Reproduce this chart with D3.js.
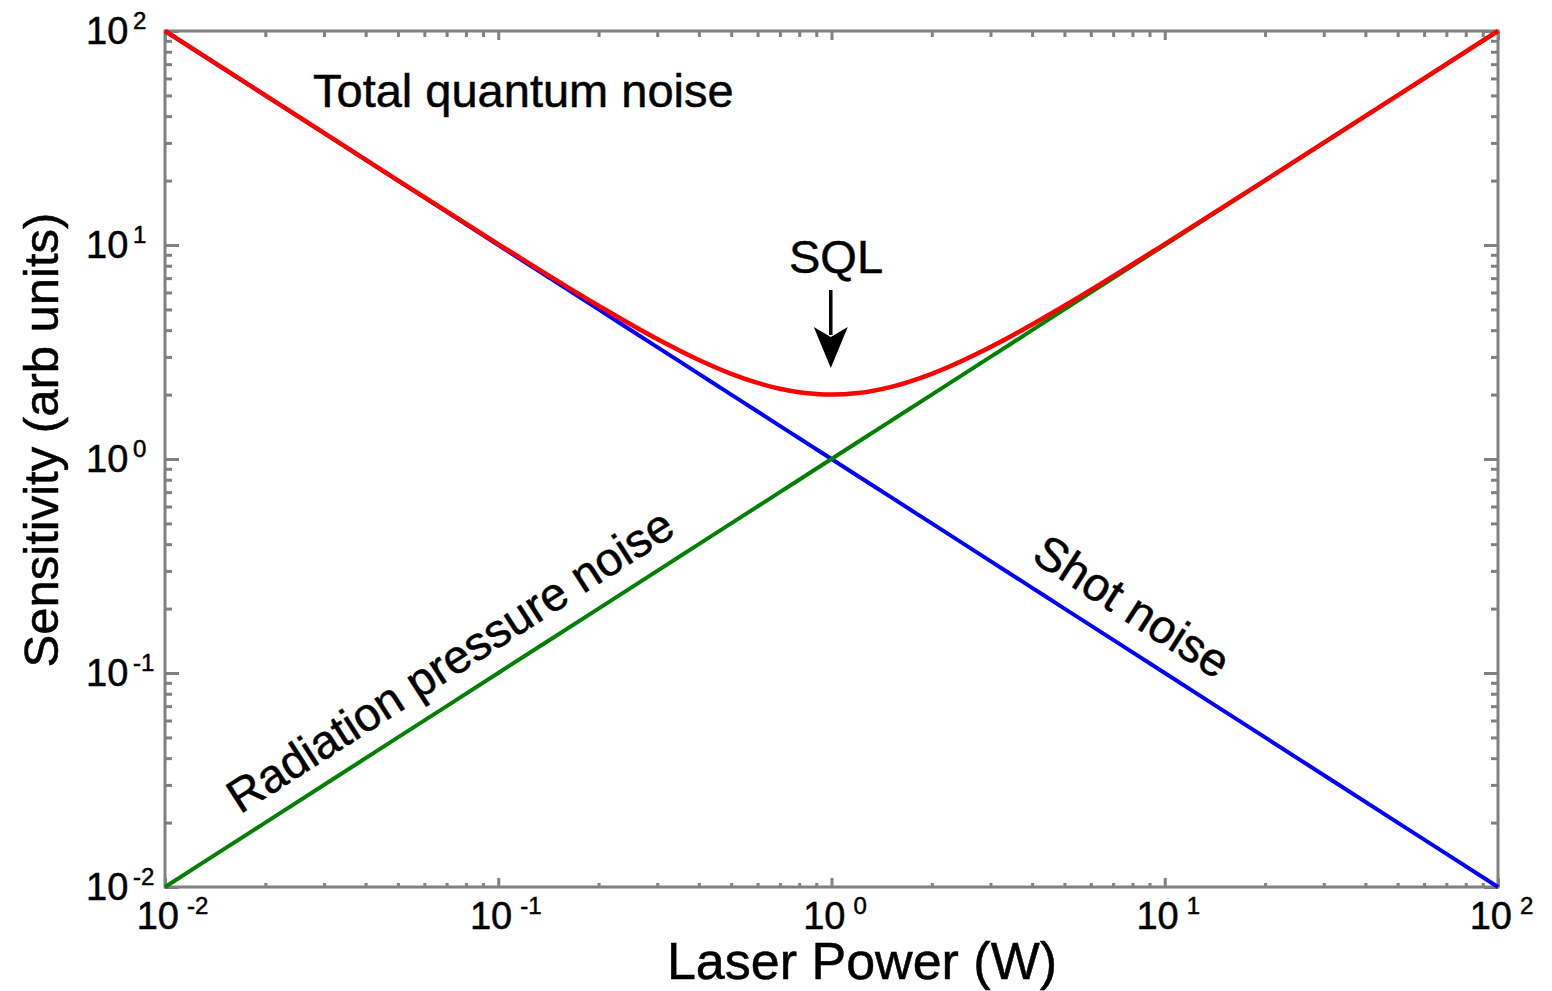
<!DOCTYPE html>
<html>
<head>
<meta charset="utf-8">
<script src="https://cdn.jsdelivr.net/npm/d3@7"></script>
<style>
  html, body { margin: 0; padding: 0; background: #fff; }
  svg { display: block; font-family: "Liberation Sans", Arial, Helvetica, sans-serif; }
  svg text { stroke: #000; stroke-width: 0.5px; }
</style>
</head>
<body>
<svg id="chart" width="1552" height="991"></svg>
<script>
// ---- data ----
const powerW    = [0.01, 0.02, 0.05, 0.1, 0.2, 0.3, 0.4, 0.5, 0.6, 0.7, 0.8, 0.9, 1, 1.2, 1.5, 2, 3, 4, 5, 10, 20, 50, 100];
const shotNoise = [100, 50, 20, 10, 5, 3.333, 2.5, 2, 1.667, 1.4286, 1.25, 1.1111, 1, 0.8333, 0.6667, 0.5, 0.3333, 0.25, 0.2, 0.1, 0.05, 0.02, 0.01];
const radNoise  = [0.01, 0.02, 0.05, 0.1, 0.2, 0.3, 0.4, 0.5, 0.6, 0.7, 0.8, 0.9, 1, 1.2, 1.5, 2, 3, 4, 5, 10, 20, 50, 100];
const totalNoise= [100.01, 50.02, 20.05, 10.1, 5.2, 3.633, 2.9, 2.5, 2.267, 2.129, 2.05, 2.011, 2.0, 2.033, 2.167, 2.5, 3.333, 4.25, 5.2, 10.1, 20.05, 50.02, 100.01];
const majorExps = [-2, -1, 0, 1, 2];
const xTickLabels = ["-2", "-1", "0", "1", "2"];
const yTickLabels = ["-2", "-1", "0", "1", "2"];
const xTitle = "Laser Power (W)";
const yTitle = "Sensitivity (arb units)";

// ---- layout ----
const svg = d3.select("#chart");
const L = 165, R = 1498, T = 31, B = 887;
const x = d3.scaleLog().domain([1e-2, 1e2]).range([L, R]);
const y = d3.scaleLog().domain([1e-2, 1e2]).range([B, T]);

const majors = majorExps.map(e => Math.pow(10, e));
const minors = [];
for (let e = -2; e < 2; e++) for (let m = 2; m <= 9; m++) minors.push(m * Math.pow(10, e));

const axisColor = "#808080";
function styleAxis(g) {
  g.select(".domain").remove();
  g.selectAll(".tick line").attr("stroke", axisColor).attr("stroke-width", 3);
  g.selectAll(".tick text").remove();
}
// bottom & top (ticks inward)
[[d3.axisBottom, B, -9, -4], [d3.axisTop, T, -9, -6]].forEach(([ax, pos, maj, mn]) => {
  svg.append("g").attr("transform", `translate(0,${pos})`)
    .call(ax(x).tickValues(majors).tickSize(maj)).call(styleAxis);
  svg.append("g").attr("transform", `translate(0,${pos})`)
    .call(ax(x).tickValues(minors).tickSize(mn)).call(styleAxis);
});
// left & right (ticks inward)
[[d3.axisLeft, L, -14, -7], [d3.axisRight, R, -14, -7]].forEach(([ax, pos, maj, mn]) => {
  svg.append("g").attr("transform", `translate(${pos},0)`)
    .call(ax(y).tickValues(majors).tickSize(maj)).call(styleAxis);
  svg.append("g").attr("transform", `translate(${pos},0)`)
    .call(ax(y).tickValues(minors).tickSize(mn)).call(styleAxis);
});
// frame
svg.append("rect").attr("x", L).attr("y", T).attr("width", R - L).attr("height", B - T)
  .attr("fill", "none").attr("stroke", axisColor).attr("stroke-width", 3);

// tick labels: bottom
majors.forEach((v, i) => {
  const px = x(v);
  svg.append("text").attr("x", px + 14).attr("y", 929).attr("text-anchor", "end")
    .attr("font-size", 38).text("10");
  svg.append("text").attr("x", px + 22).attr("y", 914)
    .attr("font-size", 24).text(xTickLabels[i]);
});
// tick labels: left
majors.forEach((v, i) => {
  const py = y(v);
  svg.append("text").attr("x", 86).attr("y", py + 13)
    .attr("font-size", 38).text("10");
  svg.append("text").attr("x", 133).attr("y", py - 2)
    .attr("font-size", 24).text(yTickLabels[i]);
});

// axis titles
svg.append("text").attr("x", 862).attr("y", 979).attr("text-anchor", "middle")
  .attr("font-size", 52).text(xTitle);
svg.append("text").attr("transform", `translate(58,440) rotate(-90)`).attr("text-anchor", "middle")
  .attr("font-size", 49).text(yTitle);

// curves
const lineGen = vals => d3.line()
  .x((d, i) => x(powerW[i])).y((d, i) => y(vals[i]))
  .curve(d3.curveMonotoneX)(vals);

svg.append("path").attr("d", lineGen(shotNoise)).attr("fill", "none")
  .attr("stroke", "#0000ff").attr("stroke-width", 4);
svg.append("path").attr("d", lineGen(radNoise)).attr("fill", "none")
  .attr("stroke", "#008000").attr("stroke-width", 4);
svg.append("path").attr("d", lineGen(totalNoise)).attr("fill", "none")
  .attr("stroke", "#ff0000").attr("stroke-width", 4.5);

// annotations
const slopeDeg = Math.atan2(y(1) - y(10), x(10) - x(1)) * 180 / Math.PI;
svg.append("text").attr("x", 313).attr("y", 107).attr("font-size", 47).text("Total quantum noise");
svg.append("text").attr("x", 836).attr("y", 273).attr("text-anchor", "middle").attr("font-size", 47).text("SQL");

const rpX = x(0.0168), rpY = y(0.0218);
svg.append("text").attr("transform", `translate(${rpX},${rpY}) rotate(${-slopeDeg})`)
  .attr("font-size", 47).text("Radiation pressure noise");
const snX = x(3.94), snY = y(0.337);
svg.append("text").attr("transform", `translate(${snX},${snY}) rotate(${slopeDeg})`)
  .attr("font-size", 47).text("Shot noise");

// SQL arrow
const ax0 = x(0.995);
svg.append("line").attr("x1", ax0).attr("x2", ax0).attr("y1", 290).attr("y2", 335)
  .attr("stroke", "#000").attr("stroke-width", 3.5);
svg.append("path")
  .attr("d", `M${ax0},368 L${ax0 - 17},327 L${ax0},337 L${ax0 + 17},327 Z`)
  .attr("fill", "#000");
</script>
</body>
</html>
